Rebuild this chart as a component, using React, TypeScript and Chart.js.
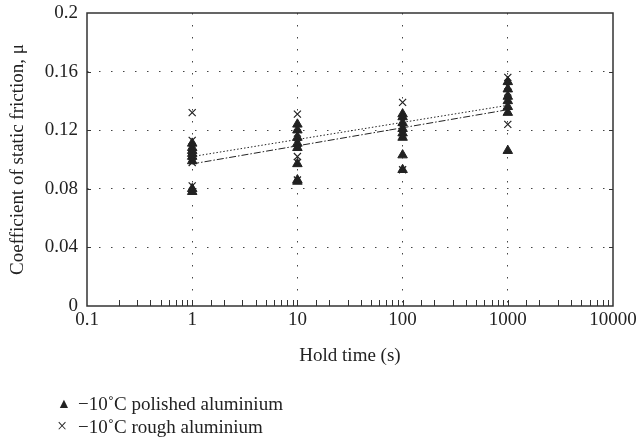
import { useEffect, useRef } from "react";
import { Chart, registerables } from "chart.js";

Chart.register(...registerables);

// Hold times (s)
const holdTimes = [1, 10, 100, 1000];

// -10°C polished aluminium (triangles), one list per hold time
const polishedAt1 = [0.111, 0.108, 0.106, 0.104, 0.102, 0.099, 0.080, 0.078];
const polishedAt10 = [0.124, 0.120, 0.115, 0.111, 0.108, 0.097, 0.086, 0.085];
const polishedAt100 = [0.131, 0.129, 0.125, 0.121, 0.118, 0.115, 0.103, 0.093];
const polishedAt1000 = [0.153, 0.148, 0.143, 0.140, 0.136, 0.132, 0.106];

// -10°C rough aluminium (crosses)
const roughAt1 = [0.132, 0.113, 0.108, 0.101, 0.098, 0.082];
const roughAt10 = [0.131, 0.118, 0.111, 0.102, 0.098, 0.086];
const roughAt100 = [0.139, 0.126, 0.121, 0.117, 0.093];
const roughAt1000 = [0.156, 0.150, 0.146, 0.141, 0.124];

// Trend line end points (at 1 s and 1000 s)
const trendX = [1, 1000];
const polishedTrend = [0.097, 0.134];
const roughTrend = [0.102, 0.137];

const xTickLabels = ["0.1", "1", "10", "100", "1000", "10000"];
const yTickValues = [0, 0.04, 0.08, 0.12, 0.16, 0.2];
const yTickLabels = ["0", "0.04", "0.08", "0.12", "0.16", "0.2"];

const legendLabels = ["\u221210\u02daC polished aluminium", "\u221210\u02daC rough aluminium"];

const toPoints = (groups: number[][]) =>
  groups.flatMap((vals, i) => vals.map((y) => ({ x: holdTimes[i], y })));

const FONT = "'Liberation Serif', 'DejaVu Serif', serif";
const INK = "#222";
const FS = 19;

const isDecade = (v: number) => Math.abs(Math.log10(v) - Math.round(Math.log10(v))) < 1e-6;

const framePlugin = {
  id: "frame",
  afterDraw(chart: any) {
    const { ctx, chartArea } = chart;
    const xs = chart.scales.x;
    const ys = chart.scales.y;
    ctx.save();
    ctx.strokeStyle = "#333";
    ctx.lineWidth = 1;
    xs.ticks.forEach((t: any) => {
      if (t.value <= xs.min || t.value >= xs.max) return;
      const px = Math.round(xs.getPixelForValue(t.value)) + 0.5;
      ctx.beginPath();
      ctx.moveTo(px, chartArea.bottom);
      ctx.lineTo(px, chartArea.bottom - 6);
      ctx.stroke();
    });
    yTickValues.forEach((v) => {
      if (v <= ys.min || v >= ys.max) return;
      const py = Math.round(ys.getPixelForValue(v)) + 0.5;
      ctx.beginPath();
      ctx.moveTo(chartArea.left, py);
      ctx.lineTo(chartArea.left + 4, py);
      ctx.moveTo(chartArea.right, py);
      ctx.lineTo(chartArea.right - 4, py);
      ctx.stroke();
    });
    ctx.lineWidth = 1.5;
    ctx.strokeRect(chartArea.left, chartArea.top, chartArea.right - chartArea.left, chartArea.bottom - chartArea.top);
    ctx.restore();
  },
};

export default function App() {
  const canvasRef = useRef<HTMLCanvasElement | null>(null);

  useEffect(() => {
    document.body.style.margin = "0";
    const canvas = canvasRef.current;
    if (!canvas) return;
    const chart = new Chart(canvas, {
      type: "scatter",
      data: {
        datasets: [
          {
            label: "polished trend",
            data: trendX.map((x, i) => ({ x, y: polishedTrend[i] })),
            showLine: true,
            borderColor: INK,
            borderWidth: 1,
            borderDash: [7, 2, 1.5, 2],
            pointRadius: 0,
          },
          {
            label: "rough trend",
            data: trendX.map((x, i) => ({ x, y: roughTrend[i] })),
            showLine: true,
            borderColor: INK,
            borderWidth: 1,
            borderDash: [1.5, 2],
            pointRadius: 0,
          },
          {
            label: legendLabels[1],
            data: toPoints([roughAt1, roughAt10, roughAt100, roughAt1000]),
            pointStyle: "crossRot",
            pointRadius: 5,
            borderColor: INK,
            backgroundColor: INK,
            borderWidth: 1.2,
          },
          {
            label: legendLabels[0],
            data: toPoints([polishedAt1, polishedAt10, polishedAt100, polishedAt1000]),
            pointStyle: "triangle",
            pointRadius: 5.5,
            borderColor: INK,
            backgroundColor: INK,
            borderWidth: 1,
          },
        ],
      },
      options: {
        animation: false,
        responsive: false,
        events: [],
        layout: { padding: { top: 13, right: 27, bottom: 75, left: 0 } },
        plugins: {
          legend: { display: false },
          tooltip: { enabled: false },
        },
        scales: {
          x: {
            type: "logarithmic",
            min: 0.1,
            max: 10000,
            border: { display: false, dash: [1.5, 10.5] },
            grid: {
              drawTicks: false,
              color: (c: any) =>
                c.tick && isDecade(c.tick.value) && c.tick.value > 0.1 && c.tick.value < 10000 ? "#444" : "rgba(0,0,0,0)",
              lineWidth: 1,
            },
            ticks: {
              autoSkip: false,
              maxRotation: 0,
              padding: 3,
              color: INK,
              font: { family: FONT, size: FS },
              callback: (v: any) => {
                const n = Number(v);
                if (!isDecade(n)) return "";
                const idx = Math.round(Math.log10(n)) + 1;
                return xTickLabels[idx] ?? "";
              },
            },
            title: {
              display: true,
              text: "Hold time (s)",
              color: INK,
              font: { family: FONT, size: FS },
              padding: { top: 4, bottom: 4 },
            },
            afterFit: (s: any) => {
              s.height = 65;
              s.paddingLeft = 0;
              s.paddingRight = 0;
            },
          },
          y: {
            min: 0,
            max: 0.2,
            border: { display: false, dash: [1.5, 10.5] },
            grid: {
              drawTicks: false,
              color: (c: any) =>
                c.tick && c.tick.value > 0.001 && c.tick.value < 0.199 ? "#444" : "rgba(0,0,0,0)",
              lineWidth: 1,
            },
            afterBuildTicks: (s: any) => {
              s.ticks = yTickValues.map((v) => ({ value: v }));
            },
            ticks: {
              padding: 9,
              color: INK,
              font: { family: FONT, size: FS },
              callback: (v: any) => {
                const idx = yTickValues.findIndex((t) => Math.abs(t - Number(v)) < 1e-9);
                return idx >= 0 ? yTickLabels[idx] : "";
              },
            },
            title: {
              display: true,
              text: "Coefficient of static friction, \u03bc",
              color: INK,
              font: { family: FONT, size: FS },
              padding: { top: 7, bottom: 4 },
            },
            afterFit: (s: any) => {
              s.width = 87;
              s.paddingTop = 0;
              s.paddingBottom = 0;
            },
          },
        },
      },
      plugins: [framePlugin],
    });
    return () => chart.destroy();
  }, []);

  return (
    <div style={{ position: "relative", width: 640, height: 446, background: "#fff" }}>
      <canvas ref={canvasRef} width={640} height={446} style={{ display: "block" }} />
      <div
        style={{
          position: "absolute",
          left: 57,
          top: 392,
          fontFamily: FONT,
          fontSize: FS,
          color: INK,
          lineHeight: "23px",
        }}
      >
        <div style={{ display: "flex", alignItems: "center" }}>
          <span style={{ display: "inline-block", width: 21, fontSize: 14 }}>{"\u25b2"}</span>
          <span>{legendLabels[0]}</span>
        </div>
        <div style={{ display: "flex", alignItems: "center" }}>
          <span style={{ display: "inline-block", width: 21, fontSize: 18 }}>{"\u00d7"}</span>
          <span>{legendLabels[1]}</span>
        </div>
      </div>
    </div>
  );
}
